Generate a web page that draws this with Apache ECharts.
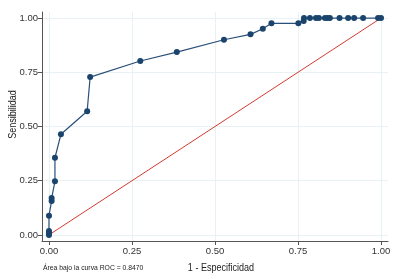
<!DOCTYPE html>
<html>
<head>
<meta charset="utf-8">
<script src="https://cdn.jsdelivr.net/npm/echarts@6/dist/echarts.min.js"></script>
<style>
  html, body { margin: 0; padding: 0; background: #fff; }
  #container { width: 402px; height: 279px; }
</style>
</head>
<body>
<div id="container"></div>
<script>
// 1 - especificidad (x) y sensibilidad (y) de la curva ROC
var fpr = [0, 0, 0, 0, 0.008, 0.008, 0.018, 0.018, 0.036, 0.115, 0.124, 0.275, 0.385, 0.527, 0.607, 0.644, 0.670, 0.751, 0.767, 0.768, 0.786, 0.804, 0.813, 0.831, 0.839, 0.846, 0.875, 0.901, 0.919, 0.946, 0.991, 1];
var tpr = [0, 0.009, 0.018, 0.089, 0.157, 0.170, 0.247, 0.356, 0.464, 0.570, 0.728, 0.802, 0.843, 0.900, 0.925, 0.951, 0.976, 0.976, 0.986, 1, 1, 1, 1, 1, 1, 1, 1, 1, 1, 1, 1, 1];
var refX = [0, 1];
var refY = [0, 1];
var ticks = [0, 0.25, 0.5, 0.75, 1];
var xTitle = '1 - Especificidad';
var yTitle = 'Sensibilidad';
var areaText = 'Área bajo la curva ROC = 0.8470';

var font = '"Liberation Sans", Arial, sans-serif';

function pairs(xs, ys) {
  var out = [];
  for (var i = 0; i < xs.length; i++) out.push([xs[i], ys[i]]);
  return out;
}

var myChart = echarts.init(document.getElementById('container'));
var option = {
  backgroundColor: '#ffffff',
  animation: false,
  grid: { left: 42, right: 14, top: 12, bottom: 38, outerBoundsMode: 'none' },
  xAxis: {
    type: 'value', min: -0.021, max: 1.021,
    axisLine: { onZero: false, lineStyle: { color: '#555', width: 1 } },
    axisTick: { show: true, length: 4, customValues: ticks, lineStyle: { color: '#555' } },
    axisLabel: {
      customValues: ticks, fontFamily: font, fontSize: 9.5, color: '#333', margin: 5,
      formatter: function (v) { return v.toFixed(2); }
    },
    splitLine: { show: true, lineStyle: { color: '#e8f1f3', width: 1 } }
  },
  yAxis: {
    type: 'value', min: -0.028, max: 1.028,
    axisLine: { show: true, onZero: false, lineStyle: { color: '#555', width: 1 } },
    axisTick: { show: true, length: 4, customValues: ticks, lineStyle: { color: '#555' } },
    axisLabel: {
      customValues: ticks, fontFamily: font, fontSize: 9.5, color: '#333', margin: 4,
      formatter: function (v) { return v.toFixed(2); }
    },
    splitLine: { show: true, lineStyle: { color: '#e8f1f3', width: 1 } }
  },
  graphic: [
    {
      type: 'text', x: 221, y: 268, scaleX: 0.86,
      style: { text: xTitle, fontFamily: font, fontSize: 10.5, fill: '#222', align: 'center', verticalAlign: 'middle' }
    },
    {
      type: 'text', x: 13.5, y: 114.5, rotation: Math.PI / 2, scaleX: 0.86,
      style: { text: yTitle, fontFamily: font, fontSize: 10.5, fill: '#222', align: 'center', verticalAlign: 'middle' }
    },
    {
      type: 'text', x: 43, y: 268, scaleX: 0.85,
      style: { text: areaText, fontFamily: font, fontSize: 8, fill: '#222', align: 'left', verticalAlign: 'middle' }
    }
  ],
  series: [
    {
      name: 'Referencia', type: 'line', data: pairs(refX, refY),
      symbol: 'none', lineStyle: { color: '#d33a32', width: 1 }, z: 2
    },
    {
      name: 'ROC', type: 'line', data: pairs(fpr, tpr),
      symbol: 'circle', symbolSize: 6,
      itemStyle: { color: '#1a446c' },
      lineStyle: { color: '#2a4f7a', width: 1.2 }, z: 3
    }
  ]
};
myChart.setOption(option);
</script>
</body>
</html>
